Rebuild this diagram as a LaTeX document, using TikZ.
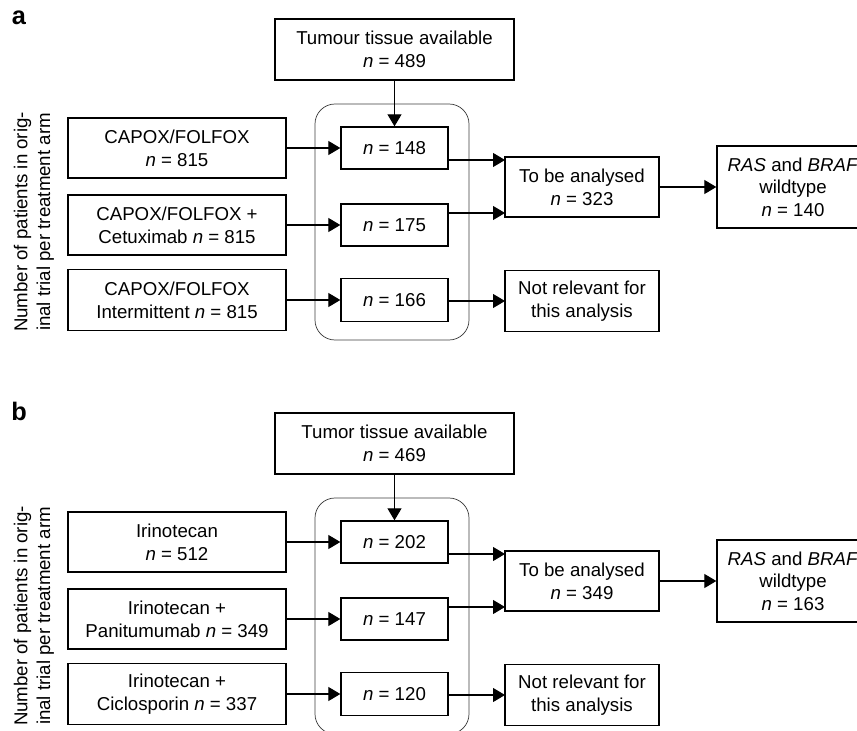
\documentclass[tikz,border=0pt]{standalone}
\usepackage{fontspec}
\setmainfont{Liberation Sans}
\usetikzlibrary{arrows.meta,calc}
\begin{document}
\begin{tikzpicture}[x=0.75pt,y=-0.75pt,
  every node/.style={font=\fontsize{14}{17}\selectfont},
  bx/.style={draw=black,line width=1pt,inner sep=0pt,align=center,minimum width=#1*0.75pt},
  bx/.default=218,
  grp/.style={draw=black!75,line width=0.55pt,rounded corners=15pt},
  arr/.style={line width=0.8pt,-{Triangle[length=9pt,width=10.5pt]}},
  plabel/.style={font=\fontsize{19}{22}\selectfont\bfseries}
]
\clip (0,0) rectangle (857,731);
\fill[white] (0,0) rectangle (857,731);

% ---------------- panel a ----------------
\node[plabel] (a-lab) at (19,18) {a};
\node[rotate=90,align=center] (a-ylab) at (34,222) {Number of patients in orig-\\inal trial per treatment arm};
\draw[grp] (315,104) rectangle (469,340);
\node[bx=239,minimum height=61*0.75pt] (a-tum) at (394.5,49.5) {Tumour tissue available\\\textit{n} = 489};
\node[bx,minimum height=60*0.75pt] (a-l1) at (177,148) {CAPOX/FOLFOX\\\textit{n} = 815};
\node[bx,minimum height=60*0.75pt] (a-l2) at (177,225) {CAPOX/FOLFOX +\\Cetuximab \textit{n} = 815};
\node[bx,minimum height=61*0.75pt] (a-l3) at (177,300) {CAPOX/FOLFOX\\Intermittent \textit{n} = 815};
\node[bx=107,minimum height=42*0.75pt] (a-m1) at (394.5,148) {\textit{n} = 148};
\node[bx=107,minimum height=42*0.75pt] (a-m2) at (394.5,225) {\textit{n} = 175};
\node[bx=107,minimum height=43*0.75pt] (a-m3) at (394.5,300) {\textit{n} = 166};
\node[bx=154,minimum height=60*0.75pt] (a-an) at (582,187) {To be analysed\\\textit{n} = 323};
\node[bx=154,minimum height=61*0.75pt] (a-nr) at (582,301) {Not relevant for\\this analysis};
\node[bx=152,minimum height=82*0.75pt] (a-ras) at (793,187) {\textit{RAS} and \textit{BRAF}\\wildtype\\\textit{n} = 140};
\coordinate (a-c1) at (505,160);
\coordinate (a-c2) at (505,213);
\coordinate (a-c3) at (505,301);
\draw[arr] (a-tum.south) -- (a-m1.north);
\draw[arr] (a-l1.east) -- (a-m1.west);
\draw[arr] (a-l2.east) -- (a-m2.west);
\draw[arr] (a-l3.east) -- (a-m3.west);
\draw[arr] (a-m1.east |- a-c1) -- (a-c1);
\draw[arr] (a-m2.east |- a-c2) -- (a-c2);
\draw[arr] (a-m3.east |- a-c3) -- (a-c3);
\draw[arr] (a-an.east) -- (a-ras.west);

% ---------------- panel b ----------------
\begin{scope}[shift={(0,394)}]
\node[plabel] (b-lab) at (19,17) {b};
\node[rotate=90,align=center] (b-ylab) at (34,222) {Number of patients in orig-\\inal trial per treatment arm};
\draw[grp] (315,104) rectangle (469,340);
\node[bx=239,minimum height=61*0.75pt] (b-tum) at (394.5,49.5) {Tumor tissue available\\\textit{n} = 469};
\node[bx,minimum height=60*0.75pt] (b-l1) at (177,148) {Irinotecan\\\textit{n} = 512};
\node[bx,minimum height=60*0.75pt] (b-l2) at (177,225) {Irinotecan +\\Panitumumab \textit{n} = 349};
\node[bx,minimum height=61*0.75pt] (b-l3) at (177,300) {Irinotecan +\\Ciclosporin \textit{n} = 337};
\node[bx=107,minimum height=42*0.75pt] (b-m1) at (394.5,148) {\textit{n} = 202};
\node[bx=107,minimum height=42*0.75pt] (b-m2) at (394.5,225) {\textit{n} = 147};
\node[bx=107,minimum height=43*0.75pt] (b-m3) at (394.5,300) {\textit{n} = 120};
\node[bx=154,minimum height=60*0.75pt] (b-an) at (582,187) {To be analysed\\\textit{n} = 349};
\node[bx=154,minimum height=61*0.75pt] (b-nr) at (582,301) {Not relevant for\\this analysis};
\node[bx=152,minimum height=82*0.75pt] (b-ras) at (793,187) {\textit{RAS} and \textit{BRAF}\\wildtype\\\textit{n} = 163};
\coordinate (b-c1) at (505,160);
\coordinate (b-c2) at (505,213);
\coordinate (b-c3) at (505,301);
\draw[arr] (b-tum.south) -- (b-m1.north);
\draw[arr] (b-l1.east) -- (b-m1.west);
\draw[arr] (b-l2.east) -- (b-m2.west);
\draw[arr] (b-l3.east) -- (b-m3.west);
\draw[arr] (b-m1.east |- b-c1) -- (b-c1);
\draw[arr] (b-m2.east |- b-c2) -- (b-c2);
\draw[arr] (b-m3.east |- b-c3) -- (b-c3);
\draw[arr] (b-an.east) -- (b-ras.west);
\end{scope}
\end{tikzpicture}
\end{document}
